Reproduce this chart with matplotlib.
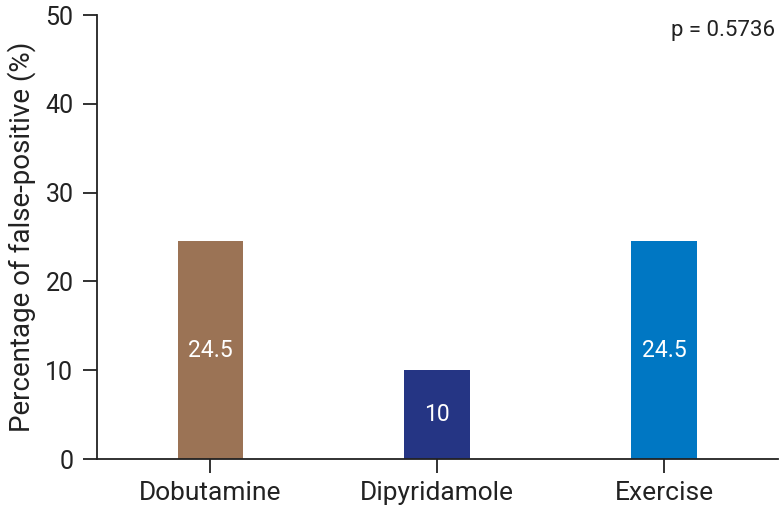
import matplotlib
matplotlib.use("Agg")
import matplotlib.pyplot as plt

categories = ["Dobutamine", "Dipyridamole", "Exercise"]
values = [24.5, 10, 24.5]
labels = ["24.5", "10", "24.5"]
colors = ["#9B7355", "#253584", "#0077C3"]
yticks = [0, 10, 20, 30, 40, 50]

plt.rcParams['font.family'] = ['Roboto', 'DejaVu Sans']

fig = plt.figure(figsize=(7.8, 5.09), dpi=100)
ax = fig.add_axes([0.1244, 0.0982, 0.8726, 0.8723])

x = list(range(len(categories)))
bars = ax.bar(x, values, width=0.29, color=colors)
for xi, v, lab in zip(x, values, labels):
    ax.text(xi, v / 2, lab, ha='center', va='center', color='white', fontsize=16.5)

ax.set_xlim(-0.5, 2.5)
ax.set_ylim(0, 50)
ax.set_yticks(yticks)
ax.set_xticks(x)
ax.set_xticklabels(categories)
ax.tick_params(axis='both', labelsize=18, length=10, width=1.3, colors='#222222')
ax.tick_params(axis='y', pad=7)
ax.tick_params(axis='x', pad=6, labelsize=19)
ax.set_ylabel("Percentage of false-positive (%)", fontsize=20, color='#222222', labelpad=7)
for s in ['top', 'right']:
    ax.spines[s].set_visible(False)
for s in ['left', 'bottom']:
    ax.spines[s].set_linewidth(1.3)
    ax.spines[s].set_color('#222222')

ax.text(0.997, 0.965, "p = 0.5736", transform=ax.transAxes, ha='right', va='center', fontsize=16, color='#222222')

fig.savefig("out.png", dpi=100)
